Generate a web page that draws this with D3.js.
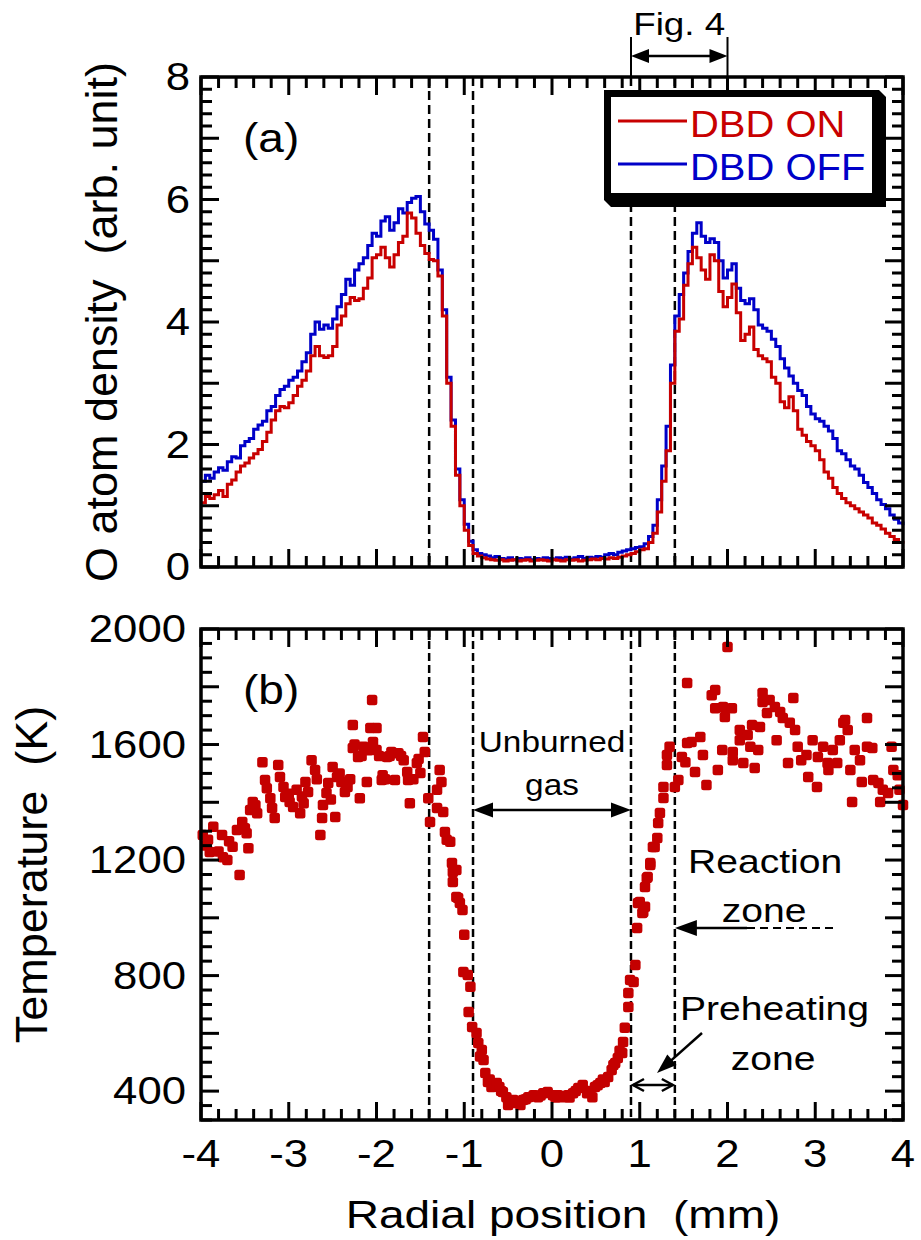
<!DOCTYPE html>
<html>
<head>
<meta charset="utf-8">
<script src="https://cdn.jsdelivr.net/npm/d3@7"></script>
<style>
  body { margin: 0; background: #fff; }
  text { font-family: "Liberation Sans", Arial, sans-serif; }
</style>
</head>
<body>
<div id="chart"></div>
<script>
const WIDTH = 921;
const HEIGHT = 1240;
const LEFT = 201, RIGHT = 903;
const TOP_A = 77, BOT_A = 567;     // panel (a)
const TOP_B = 629, BOT_B = 1120;   // panel (b)
const STRETCH = 1.15;              // text in the original is a bit wide
const RED = '#c80000', BLUE = '#0000c8', DOT = '#c40000';

// ---- data ----
// radial positions of the O atom profiles, -4 .. 4 mm every 0.05 mm
const radial = d3.range(0, 161).map(i => Math.round((-4 + i * 0.05) * 100) / 100);

const dbdOff = [
  1.40, 1.50, 1.45, 1.55, 1.62, 1.58, 1.72, 1.80, 1.78, 1.98,
  2.05, 2.10, 2.25, 2.32, 2.38, 2.55, 2.62, 2.80, 2.90, 2.95,
  3.05, 3.10, 3.20, 3.35, 3.50, 3.80, 4.00, 3.88, 3.95, 3.90,
  4.05, 4.25, 4.45, 4.70, 4.60, 4.85, 4.95, 5.05, 5.25, 5.45,
  5.40, 5.65, 5.72, 5.50, 5.62, 5.85, 5.78, 5.95, 6.02, 6.05,
  5.80, 5.60, 5.50, 5.35, 4.85, 4.20, 3.10, 2.40, 1.60, 1.10,
  0.70, 0.42, 0.28, 0.22, 0.20, 0.18, 0.15, 0.17, 0.14, 0.13,
  0.15, 0.12, 0.14, 0.13, 0.15, 0.12, 0.14, 0.13, 0.15, 0.14,
  0.13, 0.15, 0.14, 0.16, 0.13, 0.15, 0.17, 0.14, 0.16, 0.15,
  0.17, 0.16, 0.20, 0.22, 0.20, 0.24, 0.26, 0.28, 0.30, 0.32,
  0.33, 0.38, 0.50, 0.68, 1.10, 1.65, 2.30, 3.30, 4.10, 4.45,
  4.80, 5.15, 5.45, 5.62, 5.40, 5.30, 5.36, 5.30, 5.00, 4.72,
  4.85, 4.95, 4.55, 4.35, 4.30, 4.38, 4.20, 3.95, 3.90, 3.85,
  3.72, 3.60, 3.40, 3.25, 3.12, 3.00, 2.88, 2.80, 2.62, 2.50,
  2.42, 2.38, 2.30, 2.22, 2.10, 1.90, 1.85, 1.75, 1.65, 1.60,
  1.50, 1.38, 1.30, 1.20, 1.10, 1.02, 0.95, 0.85, 0.78, 0.72,
  0.68
];

const dbdOn = [
  1.05, 1.15, 1.12, 1.18, 1.25, 1.15, 1.35, 1.42, 1.55, 1.65,
  1.70, 1.78, 1.85, 1.92, 2.05, 2.20, 2.40, 2.55, 2.62, 2.60,
  2.68, 2.80, 2.95, 3.05, 3.20, 3.45, 3.60, 3.45, 3.42, 3.45,
  3.60, 3.95, 4.10, 4.30, 4.40, 4.35, 4.38, 4.55, 4.72, 5.05,
  5.10, 5.22, 5.05, 4.90, 5.10, 5.30, 5.40, 5.78, 5.70, 5.45,
  5.25, 5.12, 5.02, 5.00, 4.75, 4.10, 3.00, 2.30, 1.50, 1.00,
  0.60, 0.35, 0.22, 0.18, 0.15, 0.13, 0.12, 0.11, 0.12, 0.10,
  0.11, 0.12, 0.10, 0.11, 0.12, 0.10, 0.11, 0.12, 0.11, 0.10,
  0.12, 0.11, 0.10, 0.12, 0.11, 0.12, 0.10, 0.11, 0.12, 0.13,
  0.12, 0.14, 0.13, 0.15, 0.14, 0.16, 0.18, 0.20, 0.22, 0.25,
  0.28, 0.30, 0.40, 0.55, 0.90, 1.40, 1.90, 3.00, 3.85, 4.05,
  4.60, 4.95, 5.22, 5.05, 4.85, 4.70, 5.10, 5.00, 4.50, 4.25,
  4.40, 4.62, 4.15, 3.70, 3.80, 3.92, 3.55, 3.45, 3.40, 3.35,
  3.10, 3.00, 2.70, 2.60, 2.78, 2.55, 2.25, 2.15, 2.05, 1.98,
  1.90, 1.75, 1.55, 1.45, 1.30, 1.20, 1.12, 1.05, 1.00, 0.95,
  0.90, 0.85, 0.80, 0.72, 0.68, 0.62, 0.55, 0.50, 0.45, 0.40,
  0.38
];

// temperature points [radial position (mm), T (K)]
const temperature = [
  [-3.98,1287],[-3.92,1270],[-3.86,1315],[-3.90,1228],[-3.95,1250],[-3.80,1230],[-3.75,1210],[-3.70,1200],
  [-3.76,1287],[-3.68,1265],[-3.64,1246],[-3.56,1148],[-3.59,1304],[-3.53,1332],[-3.50,1310],[-3.48,1293],
  [-3.46,1241],[-3.44,1373],[-3.41,1401],[-3.38,1390],[-3.36,1362],[-3.30,1539],[-3.27,1477],[-3.25,1449],
  [-3.21,1414],[-3.19,1380],[-3.16,1346],[-3.12,1529],[-3.10,1488],[-3.06,1453],[-3.04,1418],[-3.00,1430],
  [-2.99,1401],[-2.95,1384],[-2.91,1443],[-2.87,1362],[-2.85,1420],[-2.83,1397],[-2.81,1470],[-2.78,1436],
  [-2.74,1546],[-2.70,1512],[-2.68,1480],[-2.64,1287],[-2.62,1346],[-2.61,1391],[-2.57,1432],[-2.55,1467],
  [-2.52,1410],[-2.50,1522],[-2.47,1349],[-2.45,1488],[-2.42,1500],[-2.40,1470],[-2.36,1436],[-2.33,1453],
  [-2.30,1480],[-2.27,1668],[-2.27,1588],[-2.25,1600],[-2.21,1557],[-2.19,1414],[-2.17,1560],[-2.15,1592],
  [-2.11,1470],[-2.09,1580],[-2.05,1754],[-2.07,1657],[-2.00,1657],[-2.04,1609],[-2.00,1581],[-1.97,1560],
  [-1.94,1477],[-1.93,1494],[-1.90,1480],[-1.88,1557],[-1.85,1560],[-1.83,1574],[-1.79,1477],[-1.75,1570],
  [-1.72,1560],[-1.69,1546],[-1.65,1505],[-1.64,1477],[-1.62,1397],[-1.58,1480],[-1.54,1536],[-1.52,1550],
  [-1.50,1501],[-1.47,1626],[-1.45,1574],[-1.41,1414],[-1.39,1332],[-1.31,1443],[-1.28,1512],[-1.26,1470],
  [-1.31,1380],[-1.24,1366],[-1.22,1297],[-1.20,1270],[-1.16,1263],[-1.14,1190],[-1.13,1159],[-1.13,1124],
  [-1.09,1166],[-1.09,1072],[-1.07,1069],[-1.05,1051],[-1.02,1027],[-1.00,941],[-1.01,812],[-0.96,802],
  [-0.93,761],[-0.95,674],[-0.91,622],[-0.86,601],[-0.84,567],[-0.82,520],[-0.80,542],[-0.78,508],
  [-0.76,463],[-0.73,432],[-0.71,440],[-0.69,414],[-0.66,420],[-0.63,428],[-0.60,414],[-0.58,400],
  [-0.56,397],[-0.52,379],[-0.50,352],[-0.47,362],[-0.44,369],[-0.40,359],[-0.36,352],[-0.33,369],
  [-0.30,372],[-0.27,379],[-0.21,386],[-0.16,379],[-0.13,385],[-0.10,393],[-0.05,397],[0.01,386],
  [0.04,378],[0.07,386],[0.12,379],[0.18,386],[0.20,378],[0.24,393],[0.27,400],[0.30,411],
  [0.35,421],[0.40,393],[0.43,400],[0.46,379],[0.49,414],[0.52,420],[0.55,428],[0.58,440],
  [0.60,432],[0.64,449],[0.68,473],[0.70,490],[0.72,497],[0.75,515],[0.77,540],[0.80,532],
  [0.81,570],[0.83,619],[0.87,691],[0.87,740],[0.89,785],[0.93,778],[0.95,837],[0.97,965],
  [0.98,1051],[1.00,1055],[1.03,1017],[1.04,1020],[1.06,1038],[1.06,1107],[1.08,1138],[1.09,1141],
  [1.12,1183],[1.12,1190],[1.15,1245],[1.17,1245],[1.20,1276],[1.21,1328],[1.23,1363],[1.27,1415],
  [1.27,1453],[1.31,1529],[1.31,1564],[1.34,1592],[1.40,1453],[1.44,1477],[1.48,1557],[1.52,1539],
  [1.54,1605],[1.54,1813],[1.59,1609],[1.63,1505],[1.69,1626],[1.72,1564],[1.76,1460],[1.82,1771],
  [1.86,1789],[1.86,1726],[1.89,1512],[1.94,1581],[1.95,1730],[1.97,1695],[2.00,1938],[2.05,1726],
  [2.06,1574],[2.06,1546],[2.14,1650],[2.14,1615],[2.18,1536],[2.23,1633],[2.26,1592],[2.28,1668],
  [2.31,1519],[2.35,1581],[2.37,1661],[2.40,1778],[2.40,1747],[2.45,1709],[2.48,1754],[2.54,1730],
  [2.56,1615],[2.60,1713],[2.63,1692],[2.69,1536],[2.71,1675],[2.75,1761],[2.77,1650],[2.80,1592],
  [2.84,1546],[2.90,1564],[2.92,1488],[2.97,1615],[3.02,1453],[3.03,1557],[3.09,1592],[3.14,1536],
  [3.15,1512],[3.20,1581],[3.25,1536],[3.28,1615],[3.32,1675],[3.34,1685],[3.37,1650],[3.40,1512],
  [3.42,1401],[3.45,1581],[3.51,1546],[3.53,1470],[3.59,1592],[3.59,1692],[3.65,1588],[3.66,1477],
  [3.72,1467],[3.74,1401],[3.77,1443],[3.83,1432],[3.87,1592],[3.89,1512],[3.94,1494],[3.96,1443],
  [4.00,1391]
];

// zone boundaries (mm) and axis ticks
const boundaries = [-1.4, -0.9, 0.9, 1.4];
const xMajor = [-4, -3, -2, -1, 0, 1, 2, 3, 4];
const yMajorA = [0, 1, 2, 3, 4, 5, 6, 7, 8];
const yLabelsA = [0, 2, 4, 6, 8];
const yMajorB = [400, 600, 800, 1000, 1200, 1400, 1600, 1800, 2000];
const yLabelsB = [400, 800, 1200, 1600, 2000];
const figRange = [0.9, 2.0];

// ---- scales ----
const x = d3.scaleLinear().domain([-4, 4]).range([LEFT, RIGHT]);
const yA = d3.scaleLinear().domain([0, 8]).range([BOT_A, TOP_A]);
const yB = d3.scaleLinear().domain([300, 2000]).range([BOT_B, TOP_B]);

const notIn = list => v => !list.some(m => Math.abs(m - v) < 1e-6);
const xMinor = d3.range(-4, 4.0001, 0.2).filter(notIn(xMajor));
const yMinorA = d3.range(0, 8.0001, 0.2).filter(notIn(yMajorA));
const yMinorB = d3.range(300, 2000.001, 50).filter(notIn(yMajorB));

const svg = d3.select('#chart').append('svg')
  .attr('width', WIDTH).attr('height', HEIGHT);

// ---- helpers ----
function label(txt, px, py, size, anchor, color) {
  return svg.append('text')
    .attr('transform', `translate(${px},${py}) scale(${STRETCH},1)`)
    .attr('text-anchor', anchor || 'start')
    .style('font-size', size + 'px')
    .style('white-space', 'pre')
    .attr('fill', color || '#000')
    .text(txt);
}

// filled arrow head with its tip at (tx, ty) pointing along angle (radians)
function head(tx, ty, angle, len, hw) {
  const bx = tx - len * Math.cos(angle), by = ty - len * Math.sin(angle);
  const nx = -Math.sin(angle) * hw, ny = Math.cos(angle) * hw;
  svg.append('path')
    .attr('d', `M${tx},${ty}L${bx + nx},${by + ny}L${bx - nx},${by - ny}Z`)
    .attr('fill', '#000');
}

function seg(x1, y1, x2, y2, w, dash) {
  return svg.append('line')
    .attr('x1', x1).attr('y1', y1).attr('x2', x2).attr('y2', y2)
    .attr('stroke', '#000').attr('stroke-width', w || 2)
    .attr('stroke-dasharray', dash || null);
}

// ---- dashed zone boundaries ----
boundaries.forEach(b => {
  seg(x(b), TOP_A, x(b), BOT_A, 2.5, '9,5');
  seg(x(b), TOP_B, x(b), BOT_B, 2.5, '8,4');
});

// ---- panel (a): O atom profiles ----
const profile = d3.line()
  .x((d, i) => x(radial[i]))
  .y(d => yA(d))
  .curve(d3.curveStepAfter);

svg.append('path').datum(dbdOff)
  .attr('d', profile).attr('fill', 'none')
  .attr('stroke', BLUE).attr('stroke-width', 3);
svg.append('path').datum(dbdOn)
  .attr('d', profile).attr('fill', 'none')
  .attr('stroke', RED).attr('stroke-width', 3);

// ---- panel (b): temperature ----
const DOT_SIZE = 10.5;
svg.append('g').selectAll('rect')
  .data(temperature)
  .enter()
  .append('rect')
  .attr('x', d => x(d[0]) - DOT_SIZE / 2)
  .attr('y', d => yB(d[1]) - DOT_SIZE / 2)
  .attr('width', DOT_SIZE).attr('height', DOT_SIZE)
  .attr('rx', 2.5)
  .attr('fill', DOT);

// ---- frames and inward ticks ----
[[TOP_A, BOT_A], [TOP_B, BOT_B]].forEach(([t, b]) => {
  svg.append('rect')
    .attr('x', LEFT).attr('y', t)
    .attr('width', RIGHT - LEFT).attr('height', b - t)
    .attr('fill', 'none').attr('stroke', '#000').attr('stroke-width', 3.5);
});

// vertical tick marks on a horizontal edge at y0, pointing in direction dir
function xTicks(values, y0, len, dir) {
  svg.append('g').selectAll('line')
    .data(values).enter().append('line')
    .attr('x1', d => x(d)).attr('x2', d => x(d))
    .attr('y1', y0).attr('y2', y0 + dir * len)
    .attr('stroke', '#000').attr('stroke-width', 3);
}
// horizontal tick marks on a vertical edge at x0
function yTicks(scale, values, x0, len, dir) {
  svg.append('g').selectAll('line')
    .data(values).enter().append('line')
    .attr('y1', d => scale(d)).attr('y2', d => scale(d))
    .attr('x1', x0).attr('x2', x0 + dir * len)
    .attr('stroke', '#000').attr('stroke-width', 3);
}

function panelTicks(yScale, top, bottom, yMajor, yMinor, yLabels, showX, yLabelRight) {
  xTicks(xMinor, bottom, 11, -1);
  xTicks(xMajor, bottom, 18, -1);
  xTicks(xMinor, top, 11, 1);
  xTicks(xMajor, top, 18, 1);
  yTicks(yScale, yMinor, LEFT, 11, 1);
  yTicks(yScale, yMajor, LEFT, 18, 1);
  yTicks(yScale, yMinor, RIGHT, 11, -1);
  yTicks(yScale, yMajor, RIGHT, 18, -1);

  if (showX) {
    svg.append('g').selectAll('text')
      .data(xMajor).enter().append('text')
      .attr('transform', d => `translate(${x(d)},${bottom + 47}) scale(${STRETCH},1)`)
      .attr('text-anchor', 'middle').style('font-size', '38px')
      .text(d => d);
  }
  svg.append('g').selectAll('text')
    .data(yLabels).enter().append('text')
    .attr('transform', d => `translate(${yLabelRight},${yScale(d) + 13}) scale(${STRETCH},1)`)
    .attr('text-anchor', 'end').style('font-size', '38px')
    .text(d => d);
}

panelTicks(yA, TOP_A, BOT_A, yMajorA, yMinorA, yLabelsA, false, 190);
panelTicks(yB, TOP_B, BOT_B, yMajorB, yMinorB, yLabelsB, true, 186);

// ---- legend ----
const LX0 = 604, LY0 = 90, LX1 = 879, LY1 = 200, SH = 7;
svg.append('path')
  .attr('d', `M${LX1},${LY0}L${LX1 + SH},${LY0 + SH}L${LX1 + SH},${LY1 + SH}L${LX0 + SH},${LY1 + SH}L${LX0},${LY1}Z`)
  .attr('fill', '#000');
svg.append('rect')
  .attr('x', LX0 + 3.5).attr('y', LY0 + 3.5)
  .attr('width', LX1 - LX0 - 7).attr('height', LY1 - LY0 - 7)
  .attr('fill', '#fff').attr('stroke', '#000').attr('stroke-width', 7);

[['DBD ON', RED, 121], ['DBD OFF', BLUE, 164]].forEach(([name, c, ly]) => {
  svg.append('line')
    .attr('x1', 618).attr('x2', 687).attr('y1', ly).attr('y2', ly)
    .attr('stroke', c).attr('stroke-width', 3);
  svg.append('text')
    .attr('transform', `translate(690,${ly + 16}) scale(1.08,1)`)
    .style('font-size', '37px').attr('fill', c).text(name);
});

// ---- panel letters ----
label('(a)', 243, 152, 40);
label('(b)', 243, 704, 40);

// ---- Fig. 4 bracket ----
label('Fig. 4', (x(figRange[0]) + x(figRange[1])) / 2, 35, 32, 'middle');
figRange.forEach(v => seg(x(v), 37, x(v), TOP_A, 2));
seg(x(figRange[0]) + 16, 56, x(figRange[1]) - 16, 56, 2.5);
head(x(figRange[0]), 56, Math.PI, 18, 7);
head(x(figRange[1]), 56, 0, 18, 7);

// ---- unburned gas ----
const gasMid = (x(boundaries[1]) + x(boundaries[2])) / 2;
label('Unburned', gasMid, 752, 29, 'middle');
label('gas', gasMid, 795, 29, 'middle');
seg(x(boundaries[1]) + 18, 810, x(boundaries[2]) - 18, 810, 2.5);
head(x(boundaries[1]), 810, Math.PI, 20, 7.5);
head(x(boundaries[2]), 810, 0, 20, 7.5);

// ---- reaction zone ----
label('Reaction', 688, 873, 34);
label('zone', 764, 922, 34, 'middle');
seg(x(boundaries[3]) + 20, 928, 747, 928, 2.5);
seg(747, 928, 833, 928, 2, '8,5');
head(x(boundaries[3]), 928, Math.PI, 22, 8);

// ---- preheating zone ----
label('Preheating', 680, 1020, 34);
label('zone', 773, 1070, 34, 'middle');
const ang = Math.atan2(1073 - 1033, 657 - 702);
seg(702, 1033, 657 - 16 * Math.cos(ang), 1073 - 16 * Math.sin(ang), 2.5);
head(657, 1073, ang, 20, 7);

// small double arrow between boundaries 0.9 and 1.4
const pa = x(boundaries[2]), pb = x(boundaries[3]);
seg(pa + 2, 1085, pb - 2, 1085, 2.5);
svg.append('path')
  .attr('d', `M${pa + 13},${1079}L${pa + 2},${1085}L${pa + 13},${1091}M${pb - 13},${1079}L${pb - 2},${1085}L${pb - 13},${1091}`)
  .attr('fill', 'none').attr('stroke', '#000').attr('stroke-width', 2.5);

// ---- axis titles ----
svg.append('text')
  .attr('transform', `translate(117,${(TOP_A + BOT_A) / 2}) rotate(-90)`)
  .attr('text-anchor', 'middle').style('font-size', '45px').style('white-space', 'pre')
  .text('O atom density  (arb. unit)');
svg.append('text')
  .attr('transform', `translate(47,${(TOP_B + BOT_B) / 2}) rotate(-90)`)
  .attr('text-anchor', 'middle').style('font-size', '45px').style('white-space', 'pre')
  .text('Temperature  (K)');
svg.append('text')
  .attr('transform', `translate(563,1228) scale(1.18,1)`)
  .attr('text-anchor', 'middle').style('font-size', '39px').style('white-space', 'pre')
  .text('Radial position  (mm)');
</script>
</body>
</html>
